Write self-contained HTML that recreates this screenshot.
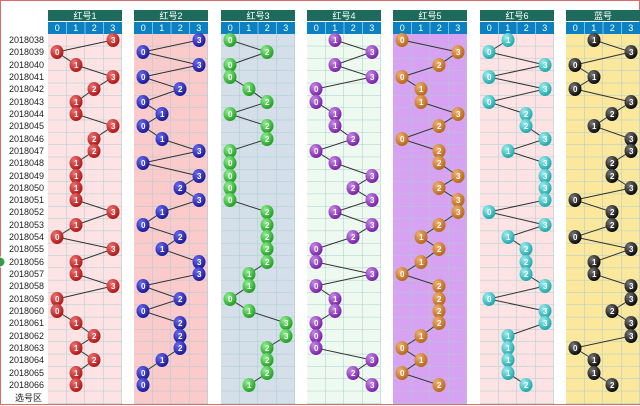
<!DOCTYPE html>
<html><head><meta charset="utf-8"><style>
html,body{margin:0;padding:0;background:#fff}
svg{display:block}
.d{font:9px "Liberation Sans","Noto Sans CJK SC",sans-serif;fill:#222;text-anchor:end}
.h{font:9px "Liberation Sans","Noto Sans CJK SC",sans-serif;fill:#fff;text-anchor:middle}
.n{font:bold 8px "Liberation Sans",sans-serif;fill:#fff}
.ln{fill:none;stroke:#333;stroke-width:1}
</style></head><body>
<svg width="640" height="406" viewBox="0 0 640 406" xmlns="http://www.w3.org/2000/svg">
<defs>
<pattern id="g" patternUnits="userSpaceOnUse" x="0" y="34" width="18.5" height="12.32">
<path d="M18.5 0V12.32M0 12.32H18.5" stroke="#a6cdd4" stroke-width="1" fill="none"/>
</pattern>
<radialGradient id="rr" cx="35%" cy="30%" r="70%"><stop offset="0" stop-color="#f07070"/><stop offset="1" stop-color="#b01818"/></radialGradient>
<radialGradient id="rb" cx="35%" cy="30%" r="70%"><stop offset="0" stop-color="#6a6af0"/><stop offset="1" stop-color="#1a1a9a"/></radialGradient>
<radialGradient id="rg" cx="35%" cy="30%" r="70%"><stop offset="0" stop-color="#8ef08e"/><stop offset="1" stop-color="#22a022"/></radialGradient>
<radialGradient id="rp" cx="35%" cy="30%" r="70%"><stop offset="0" stop-color="#c88ae8"/><stop offset="1" stop-color="#7a22a8"/></radialGradient>
<radialGradient id="ro" cx="35%" cy="30%" r="70%"><stop offset="0" stop-color="#f0b070"/><stop offset="1" stop-color="#b86818"/></radialGradient>
<radialGradient id="rc" cx="35%" cy="30%" r="70%"><stop offset="0" stop-color="#9aeef0"/><stop offset="1" stop-color="#20a8ac"/></radialGradient>
<radialGradient id="rk" cx="35%" cy="30%" r="70%"><stop offset="0" stop-color="#777"/><stop offset="1" stop-color="#0a0a0a"/></radialGradient>
<marker id="m1" markerUnits="userSpaceOnUse" markerWidth="16" markerHeight="16" refX="8" refY="8"><ellipse cx="8" cy="8" rx="6.5" ry="7" fill="url(#rr)"/></marker>
<marker id="m2" markerUnits="userSpaceOnUse" markerWidth="16" markerHeight="16" refX="8" refY="8"><ellipse cx="8" cy="8" rx="6.5" ry="7" fill="url(#rb)"/></marker>
<marker id="m3" markerUnits="userSpaceOnUse" markerWidth="16" markerHeight="16" refX="8" refY="8"><ellipse cx="8" cy="8" rx="6.5" ry="7" fill="url(#rg)"/></marker>
<marker id="m4" markerUnits="userSpaceOnUse" markerWidth="16" markerHeight="16" refX="8" refY="8"><ellipse cx="8" cy="8" rx="6.5" ry="7" fill="url(#rp)"/></marker>
<marker id="m5" markerUnits="userSpaceOnUse" markerWidth="16" markerHeight="16" refX="8" refY="8"><ellipse cx="8" cy="8" rx="6.5" ry="7" fill="url(#ro)"/></marker>
<marker id="m6" markerUnits="userSpaceOnUse" markerWidth="16" markerHeight="16" refX="8" refY="8"><ellipse cx="8" cy="8" rx="6.5" ry="7" fill="url(#rc)"/></marker>
<marker id="m7" markerUnits="userSpaceOnUse" markerWidth="16" markerHeight="16" refX="8" refY="8"><ellipse cx="8" cy="8" rx="6.5" ry="7" fill="url(#rk)"/></marker>
<g id="hdr">
<rect x="0" y="10" width="74" height="11" fill="#1e6b5e"/>
<rect x="0" y="22" width="74" height="12" fill="#0b80c2"/>
<path d="M18.5 22V34M37 22V34M55.5 22V34" stroke="#7cc0e0" stroke-width="1"/>
<text class="h" x="9.25" y="31">0</text><text class="h" x="27.75" y="31">1</text><text class="h" x="46.25" y="31">2</text><text class="h" x="64.75" y="31">3</text>
</g>
</defs>
<rect x="0.5" y="0.5" width="639" height="404" fill="#fff" stroke="#e06a6a" stroke-width="1"/>
<g class="d">
<text x="44" y="43">2018038</text><text x="44" y="55">2018039</text><text x="44" y="68">2018040</text><text x="44" y="80">2018041</text><text x="44" y="92">2018042</text><text x="44" y="105">2018043</text><text x="44" y="117">2018044</text><text x="44" y="129">2018045</text><text x="44" y="142">2018046</text><text x="44" y="154">2018047</text><text x="44" y="166">2018048</text><text x="44" y="179">2018049</text><text x="44" y="191">2018050</text><text x="44" y="203">2018051</text><text x="44" y="215">2018052</text><text x="44" y="228">2018053</text><text x="44" y="240">2018054</text><text x="44" y="252">2018055</text><text x="44" y="265">2018056</text><text x="44" y="277">2018057</text><text x="44" y="289">2018058</text><text x="44" y="302">2018059</text><text x="44" y="314">2018060</text><text x="44" y="326">2018061</text><text x="44" y="339">2018062</text><text x="44" y="351">2018063</text><text x="44" y="363">2018064</text><text x="44" y="376">2018065</text><text x="44" y="388">2018066</text><text x="42" y="401">选号区</text>
</g>

<g transform="translate(48,0)">
<rect x="0" y="34" width="74" height="370" fill="#fde3e3"/><rect x="0" y="34" width="74" height="370" fill="url(#g)"/>
<use href="#hdr"/><text class="h" x="37" y="19">红号1</text>
<polyline class="ln" marker-start="url(#m1)" marker-mid="url(#m1)" marker-end="url(#m1)" points="65,40 9,52 28,65 65,77 46,89 28,102 28,114 65,126 46,139 46,151 28,163 28,176 28,188 28,200 65,212 28,225 9,237 65,249 28,262 28,274 65,286 9,299 9,311 28,323 46,336 28,348 46,360 28,373 28,385"/>
<text class="n" x="63 7 26 63 44 26 26 63 44 44 26 26 26 26 63 26 7 63 26 26 63 7 7 26 44 26 44 26 26" y="43 55 68 80 92 105 117 129 142 154 166 179 191 203 215 228 240 252 265 277 289 302 314 326 339 351 363 376 388">30132113221111310311300121211</text>
</g>

<g transform="translate(134,0)">
<rect x="0" y="34" width="74" height="370" fill="#fbcaca"/><rect x="0" y="34" width="74" height="370" fill="url(#g)"/>
<use href="#hdr"/><text class="h" x="37" y="19">红号2</text>
<polyline class="ln" marker-start="url(#m2)" marker-mid="url(#m2)" marker-end="url(#m2)" points="65,40 9,52 65,65 9,77 46,89 9,102 28,114 9,126 28,139 65,151 9,163 65,176 46,188 65,200 28,212 9,225 46,237 28,249 65,262 65,274 9,286 46,299 9,311 46,323 46,336 46,348 28,360 9,373 9,385"/>
<text class="n" x="63 7 63 7 44 7 26 7 26 63 7 63 44 63 26 7 44 26 63 63 7 44 7 44 44 44 26 7 7" y="43 55 68 80 92 105 117 129 142 154 166 179 191 203 215 228 240 252 265 277 289 302 314 326 339 351 363 376 388">30302010130323102133020222100</text>
</g>

<g transform="translate(221,0)">
<rect x="0" y="34" width="74" height="370" fill="#d4dfe9"/><rect x="0" y="34" width="74" height="370" fill="url(#g)"/>
<use href="#hdr"/><text class="h" x="37" y="19">红号3</text>
<polyline class="ln" marker-start="url(#m3)" marker-mid="url(#m3)" marker-end="url(#m3)" points="9,40 46,52 9,65 9,77 28,89 46,102 9,114 46,126 46,139 9,151 9,163 9,176 9,188 9,200 46,212 46,225 46,237 46,249 46,262 28,274 28,286 9,299 28,311 65,323 65,336 46,348 46,360 46,373 28,385"/>
<text class="n" x="7 44 7 7 26 44 7 44 44 7 7 7 7 7 44 44 44 44 44 26 26 7 26 63 63 44 44 44 26" y="43 55 68 80 92 105 117 129 142 154 166 179 191 203 215 228 240 252 265 277 289 302 314 326 339 351 363 376 388">02001202200000222221101332221</text>
</g>

<g transform="translate(307,0)">
<rect x="0" y="34" width="74" height="370" fill="#eefaef"/><rect x="0" y="34" width="74" height="370" fill="url(#g)"/>
<use href="#hdr"/><text class="h" x="37" y="19">红号4</text>
<polyline class="ln" marker-start="url(#m4)" marker-mid="url(#m4)" marker-end="url(#m4)" points="28,40 65,52 28,65 65,77 9,89 9,102 28,114 28,126 46,139 9,151 28,163 65,176 46,188 65,200 28,212 65,225 46,237 9,249 9,262 65,274 9,286 28,299 28,311 9,323 9,336 9,348 65,360 46,373 65,385"/>
<text class="n" x="26 63 26 63 7 7 26 26 44 7 26 63 44 63 26 63 44 7 7 63 7 26 26 7 7 7 63 44 63" y="43 55 68 80 92 105 117 129 142 154 166 179 191 203 215 228 240 252 265 277 289 302 314 326 339 351 363 376 388">13130011201323132003011000323</text>
</g>

<g transform="translate(393,0)">
<rect x="0" y="34" width="74" height="370" fill="#d8a2f2"/><rect x="0" y="34" width="74" height="370" fill="url(#g)"/>
<use href="#hdr"/><text class="h" x="37" y="19">红号5</text>
<polyline class="ln" marker-start="url(#m5)" marker-mid="url(#m5)" marker-end="url(#m5)" points="9,40 65,52 46,65 9,77 28,89 28,102 65,114 46,126 9,139 46,151 46,163 65,176 46,188 65,200 65,212 46,225 28,237 46,249 28,262 9,274 46,286 46,299 46,311 46,323 28,336 9,348 28,360 9,373 46,385"/>
<text class="n" x="7 63 44 7 26 26 63 44 7 44 44 63 44 63 63 44 26 44 26 7 44 44 44 44 26 7 26 7 44" y="43 55 68 80 92 105 117 129 142 154 166 179 191 203 215 228 240 252 265 277 289 302 314 326 339 351 363 376 388">03201132022323321210222210102</text>
</g>

<g transform="translate(480,0)">
<rect x="0" y="34" width="74" height="370" fill="#fde3e3"/><rect x="0" y="34" width="74" height="370" fill="url(#g)"/>
<use href="#hdr"/><text class="h" x="37" y="19">红号6</text>
<polyline class="ln" marker-start="url(#m6)" marker-mid="url(#m6)" marker-end="url(#m6)" points="28,40 9,52 65,65 9,77 65,89 9,102 46,114 46,126 65,139 28,151 65,163 65,176 65,188 65,200 9,212 65,225 28,237 46,249 46,262 46,274 65,286 9,299 65,311 65,323 28,336 28,348 28,360 28,373 46,385"/>
<text class="n" x="26 7 63 7 63 7 44 44 63 26 63 63 63 63 7 63 26 44 44 44 63 7 63 63 26 26 26 26 44" y="43 55 68 80 92 105 117 129 142 154 166 179 191 203 215 228 240 252 265 277 289 302 314 326 339 351 363 376 388">10303022313333031222303311112</text>
</g>

<g transform="translate(566,0)">
<rect x="0" y="34" width="74" height="370" fill="#fbe89c"/><rect x="0" y="34" width="74" height="370" fill="url(#g)"/>
<use href="#hdr"/><text class="h" x="37" y="19">蓝号</text>
<polyline class="ln" marker-start="url(#m7)" marker-mid="url(#m7)" marker-end="url(#m7)" points="28,40 65,52 9,65 28,77 9,89 65,102 46,114 28,126 65,139 65,151 46,163 46,176 65,188 9,200 46,212 46,225 9,237 65,249 28,262 28,274 65,286 65,299 46,311 65,323 65,336 9,348 28,360 28,373 46,385"/>
<text class="n" x="26 63 7 26 7 63 44 26 63 63 44 44 63 7 44 44 7 63 26 26 63 63 44 63 63 7 26 26 44" y="43 55 68 80 92 105 117 129 142 154 166 179 191 203 215 228 240 252 265 277 289 302 314 326 339 351 363 376 388">13010321332230220311332330112</text>
</g>
<circle cx="0" cy="262" r="5" fill="#3a9a4a" stroke="#fff" stroke-width="1"/>
</svg>
</body></html>
